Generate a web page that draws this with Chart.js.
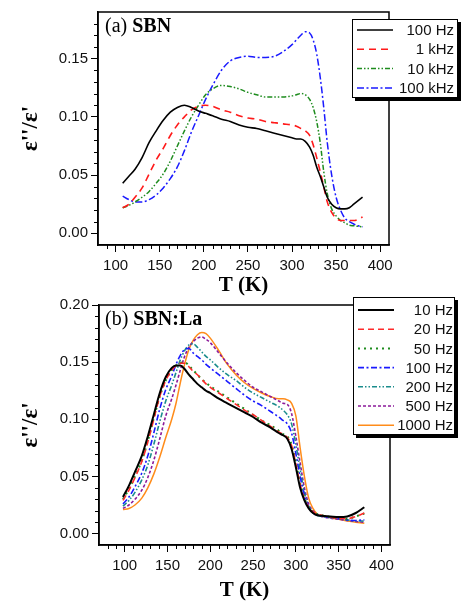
<!DOCTYPE html>
<html>
<head>
<meta charset="utf-8">
<script src="https://cdn.jsdelivr.net/npm/chart.js@4.4.1/dist/chart.umd.min.js"></script>
<style>
    body { margin: 0; background: #fff; }
    #quadro { position: relative; width: 461px; height: 603px; }
    canvas { position: absolute; left: 0; }
    #grafico-a { top: 0; }
    #grafico-b { top: 290px; }
</style>
</head>
<body>
<div id="quadro">
    <canvas id="grafico-a" width="461" height="300"></canvas>
    <canvas id="grafico-b" width="461" height="313"></canvas>
</div>
<script>
// (a) SBN - temperaturas (K) e perdas dieletricas por frequencia
const temperaturasA = [108, 115, 122, 130, 138, 146, 154, 162, 170, 178, 186, 194, 202, 210, 220, 230, 240, 250, 260, 270,
    280, 290, 300, 305, 310, 315, 320, 324, 328, 332, 336, 340, 345, 350, 355, 360, 365, 370, 375, 380];
const sbn100Hz = [0.043, 0.049, 0.055, 0.065, 0.078, 0.088, 0.097, 0.104, 0.108, 0.110, 0.108, 0.105, 0.103, 0.101, 0.098, 0.096, 0.093, 0.091, 0.090, 0.088,
    0.086, 0.084, 0.082, 0.081, 0.081, 0.079, 0.074, 0.067, 0.057, 0.049, 0.040, 0.031, 0.025, 0.022, 0.021, 0.021, 0.022, 0.025, 0.028, 0.031];
const sbn1kHz = [0.022, 0.025, 0.031, 0.039, 0.051, 0.063, 0.073, 0.084, 0.093, 0.100, 0.106, 0.109, 0.110, 0.109, 0.106, 0.104, 0.101, 0.099, 0.098, 0.096,
    0.095, 0.094, 0.093, 0.092, 0.090, 0.088, 0.084, 0.076, 0.065, 0.053, 0.040, 0.027, 0.018, 0.013, 0.011, 0.011, 0.011, 0.011, 0.012, 0.014];
const sbn10kHz = [0.022, 0.024, 0.027, 0.031, 0.036, 0.043, 0.051, 0.062, 0.075, 0.088, 0.100, 0.110, 0.119, 0.124, 0.127, 0.126, 0.124, 0.121, 0.119, 0.117,
    0.117, 0.117, 0.118, 0.119, 0.120, 0.119, 0.115, 0.108, 0.096, 0.078, 0.053, 0.034, 0.021, 0.015, 0.011, 0.009, 0.007, 0.0065, 0.006, 0.0056];
const sbn100kHz = [0.032, 0.029, 0.027, 0.027, 0.029, 0.033, 0.039, 0.047, 0.057, 0.071, 0.087, 0.101, 0.115, 0.127, 0.140, 0.148, 0.151, 0.152, 0.151, 0.151,
    0.152, 0.156, 0.162, 0.166, 0.170, 0.173, 0.172, 0.166, 0.154, 0.134, 0.108, 0.078, 0.050, 0.031, 0.020, 0.013, 0.010, 0.008, 0.0065, 0.0056];
const rotulosA = ['100 Hz', '1 kHz', '10 kHz', '100 kHz'];
const ticksTempA = [100, 150, 200, 250, 300, 350, 400];
const ticksPerdaA = [0, 0.05, 0.10, 0.15];

// (b) SBN:La
const temperaturasB = [98, 105, 112, 120, 127, 134, 141, 148, 155, 160, 165, 170, 175, 180, 185, 190, 195, 200, 210, 220,
    230, 240, 250, 260, 270, 280, 285, 290, 295, 300, 305, 310, 315, 320, 325, 330, 340, 350, 360, 370, 380];
const la10Hz = [0.032, 0.042, 0.054, 0.068, 0.085, 0.104, 0.123, 0.137, 0.145, 0.147, 0.147, 0.144, 0.139, 0.135, 0.131, 0.128, 0.125, 0.123, 0.118, 0.114,
    0.110, 0.106, 0.102, 0.097, 0.093, 0.088, 0.086, 0.083, 0.074, 0.058, 0.040, 0.029, 0.022, 0.018, 0.016, 0.0155, 0.015, 0.0145, 0.015, 0.018, 0.023];
const la20Hz = [0.029, 0.038, 0.049, 0.063, 0.080, 0.100, 0.120, 0.134, 0.143, 0.147, 0.149, 0.149, 0.146, 0.142, 0.139, 0.135, 0.131, 0.128, 0.123, 0.118,
    0.113, 0.108, 0.104, 0.099, 0.094, 0.089, 0.087, 0.084, 0.077, 0.061, 0.043, 0.030, 0.023, 0.019, 0.017, 0.016, 0.0145, 0.013, 0.013, 0.015, 0.018];
const la50Hz = [0.030, 0.039, 0.050, 0.064, 0.081, 0.101, 0.120, 0.134, 0.143, 0.147, 0.149, 0.150, 0.147, 0.143, 0.139, 0.135, 0.132, 0.129, 0.124, 0.119,
    0.114, 0.109, 0.104, 0.099, 0.095, 0.090, 0.087, 0.085, 0.078, 0.062, 0.044, 0.031, 0.023, 0.019, 0.017, 0.016, 0.0145, 0.013, 0.013, 0.015, 0.0175];
const la100Hz = [0.026, 0.032, 0.041, 0.053, 0.068, 0.088, 0.109, 0.126, 0.138, 0.148, 0.156, 0.161, 0.162, 0.158, 0.155, 0.152, 0.148, 0.145, 0.139, 0.133,
    0.127, 0.121, 0.116, 0.112, 0.107, 0.102, 0.099, 0.096, 0.088, 0.070, 0.050, 0.033, 0.023, 0.018, 0.016, 0.0155, 0.014, 0.013, 0.012, 0.0115, 0.012];
const la200Hz = [0.024, 0.029, 0.036, 0.047, 0.060, 0.078, 0.098, 0.116, 0.130, 0.141, 0.152, 0.160, 0.165, 0.166, 0.163, 0.159, 0.155, 0.152, 0.145, 0.139,
    0.134, 0.128, 0.123, 0.119, 0.115, 0.111, 0.108, 0.104, 0.096, 0.078, 0.056, 0.036, 0.024, 0.019, 0.016, 0.015, 0.014, 0.013, 0.012, 0.011, 0.011];
const la500Hz = [0.022, 0.025, 0.030, 0.038, 0.049, 0.064, 0.083, 0.103, 0.118, 0.130, 0.143, 0.155, 0.163, 0.168, 0.171, 0.172, 0.170, 0.167, 0.158, 0.149,
    0.141, 0.134, 0.128, 0.124, 0.120, 0.116, 0.114, 0.113, 0.105, 0.085, 0.062, 0.040, 0.026, 0.020, 0.017, 0.015, 0.0135, 0.0125, 0.0115, 0.0105, 0.010];
const la1000Hz = [0.021, 0.022, 0.025, 0.031, 0.040, 0.052, 0.067, 0.084, 0.100, 0.114, 0.132, 0.148, 0.161, 0.169, 0.174, 0.176, 0.175, 0.171, 0.160, 0.148,
    0.139, 0.132, 0.127, 0.123, 0.120, 0.118, 0.118, 0.117, 0.114, 0.103, 0.075, 0.050, 0.031, 0.022, 0.017, 0.0155, 0.014, 0.0125, 0.011, 0.010, 0.009];
const rotulosB = ['10 Hz', '20 Hz', '50 Hz', '100 Hz', '200 Hz', '500 Hz', '1000 Hz'];
const ticksTempB = [100, 150, 200, 250, 300, 350, 400];
const ticksPerdaB = [0, 0.05, 0.10, 0.15, 0.20];

const estilosA = [
    { borderColor: '#000000', borderWidth: 1.6, borderDash: [] },
    { borderColor: '#ff1a1a', borderWidth: 1.6, borderDash: [7, 5] },
    { borderColor: '#1e8c1e', borderWidth: 1.5, borderDash: [5, 2, 1.5, 2, 1.5, 2] },
    { borderColor: '#1a1aff', borderWidth: 1.5, borderDash: [7, 2.5, 2, 2.5] }
];

const estilosB = [
    { borderColor: '#000000', borderWidth: 2, borderDash: [] },
    { borderColor: '#ff2a2a', borderWidth: 1.6, borderDash: [6, 4] },
    { borderColor: '#1e8c1e', borderWidth: 2, borderDash: [2, 4] },
    { borderColor: '#1a1aff', borderWidth: 1.6, borderDash: [6, 2.5, 2, 2.5] },
    { borderColor: '#1a8c8c', borderWidth: 1.6, borderDash: [5, 2, 1.5, 2, 1.5, 2] },
    { borderColor: '#8c1a9a', borderWidth: 1.6, borderDash: [3, 2] },
    { borderColor: '#ff8c1a', borderWidth: 1.5, borderDash: [] }
];

const fonteTicks = { family: 'Liberation Sans', size: 15 };
const fonteTitulo = { family: 'Liberation Serif', size: 21, weight: 'bold' };

// moldura, ticks menores, rotulo do painel e legenda com sombra
const pluginMoldura = {
    id: 'moldura',
    afterDraw(chart, args, opcoes) {
        const { ctx, chartArea: area, scales: { x, y } } = chart;
        ctx.save();
        ctx.strokeStyle = '#000';
        ctx.lineWidth = 1;
        ctx.beginPath();
        for (let t = Math.ceil(x.min / 10) * 10; t < x.max; t += 10) {
            if (t % 50 === 0 || t <= x.min) continue;
            const px = Math.round(x.getPixelForValue(t)) + 0.5;
            ctx.moveTo(px, area.bottom);
            ctx.lineTo(px, area.bottom + 4);
        }
        for (let k = Math.ceil(y.min * 100 - 1e-6); k < Math.round(y.max * 100); k++) {
            if (k % 5 === 0 || k / 100 <= y.min + 1e-6) continue;
            const py = Math.round(y.getPixelForValue(k / 100)) + 0.5;
            ctx.moveTo(area.left - 4, py);
            ctx.lineTo(area.left, py);
        }
        ctx.stroke();

        ctx.lineWidth = 1.5;
        ctx.strokeRect(area.left, area.top, area.right - area.left, area.bottom - area.top);

        // rotulo "(a) SBN"
        ctx.fillStyle = '#000';
        ctx.textAlign = 'left';
        ctx.textBaseline = 'alphabetic';
        ctx.font = '20px "Liberation Serif"';
        ctx.fillText(opcoes.rotulo[0], opcoes.rotuloX, opcoes.rotuloY);
        const largura = ctx.measureText(opcoes.rotulo[0]).width;
        ctx.font = 'bold 20px "Liberation Serif"';
        ctx.fillText(opcoes.rotulo[1], opcoes.rotuloX + largura, opcoes.rotuloY);

        // legenda
        const leg = opcoes.legenda;
        ctx.fillStyle = '#000';
        ctx.fillRect(leg.x + 3, leg.y + 3, leg.w, leg.h);
        ctx.fillStyle = '#fff';
        ctx.fillRect(leg.x, leg.y, leg.w, leg.h);
        ctx.lineWidth = 1;
        ctx.strokeStyle = '#000';
        ctx.strokeRect(leg.x + 0.5, leg.y + 0.5, leg.w - 1, leg.h - 1);

        ctx.font = '15px "Liberation Sans"';
        ctx.textAlign = 'right';
        ctx.textBaseline = 'middle';
        chart.data.datasets.forEach((ds, i) => {
            const yLinha = leg.linha0 + i * leg.passo;
            ctx.save();
            ctx.strokeStyle = ds.borderColor;
            ctx.lineWidth = ds.borderWidth;
            ctx.setLineDash(ds.borderDash);
            ctx.beginPath();
            ctx.moveTo(leg.x + 5, yLinha);
            ctx.lineTo(leg.x + 41, yLinha);
            ctx.stroke();
            ctx.restore();
            ctx.fillStyle = '#111';
            ctx.fillText(ds.label, leg.textoX, yLinha + 1);
        });
        ctx.restore();
    }
};

function montarPontos(temperaturas, valores) {
    return temperaturas.map((t, i) => ({ x: t, y: valores[i] }));
}

function criarPainel(elementoId, temperaturas, series, estilos, rotulos, eixos, painel) {
    const contexto = document.getElementById(elementoId);

    return new Chart(contexto, {
        type: 'line',
        data: {
            datasets: series.map((valores, i) => ({
                label: rotulos[i],
                data: montarPontos(temperaturas, valores),
                ...estilos[i],
                pointRadius: 0,
                fill: false,
                cubicInterpolationMode: 'monotone'
            }))
        },
        options: {
            responsive: false,
            animation: false,
            devicePixelRatio: 1,
            layout: { padding: painel.padding },
            plugins: {
                legend: { display: false },
                tooltip: { enabled: false },
                moldura: painel
            },
            scales: {
                x: {
                    type: 'linear',
                    min: eixos.xMin,
                    max: eixos.xMax,
                    afterBuildTicks(escala) { escala.ticks = eixos.ticksX.map(v => ({ value: v })); },
                    afterFit(escala) { escala.height = painel.alturaX; },
                    ticks: {
                        padding: 5,
                        font: fonteTicks,
                        color: '#111',
                        maxRotation: 0,
                        autoSkip: false,
                        callback(valor) { return String(valor); }
                    },
                    grid: { drawOnChartArea: false, tickLength: 7, color: '#000' },
                    border: { color: '#000', width: 1.5 },
                    title: {
                        display: true,
                        text: 'T (K)',
                        font: fonteTitulo,
                        color: '#000',
                        padding: { top: 0, bottom: painel.tituloXPad }
                    }
                },
                y: {
                    min: eixos.yMin,
                    max: eixos.yMax,
                    afterBuildTicks(escala) { escala.ticks = eixos.ticksY.map(v => ({ value: v })); },
                    afterFit(escala) { escala.width = painel.larguraY; },
                    ticks: {
                        padding: 3,
                        font: fonteTicks,
                        color: '#111',
                        autoSkip: false,
                        callback(valor) { return valor.toFixed(2); }
                    },
                    grid: { drawOnChartArea: false, tickLength: 7, color: '#000' },
                    border: { color: '#000', width: 1.5 },
                    title: {
                        display: true,
                        text: "ε''/ε'",
                        font: { family: 'Liberation Serif', size: 23, weight: 'bold' },
                        color: '#000',
                        padding: { top: 17, bottom: 0 }
                    }
                }
            }
        },
        plugins: [pluginMoldura]
    });
}

criarPainel(
    'grafico-a',
    temperaturasA,
    [sbn100Hz, sbn1kHz, sbn10kHz, sbn100kHz],
    estilosA,
    rotulosA,
    { xMin: 80, xMax: 410, yMin: -0.01, yMax: 0.19, ticksX: ticksTempA, ticksY: ticksPerdaA },
    {
        padding: { left: 0, right: 72, top: 7, bottom: 0 },
        alturaX: 55,
        larguraY: 98,
        tituloXPad: 2,
        rotulo: ['(a) ', 'SBN'],
        rotuloX: 105,
        rotuloY: 32,
        legenda: { x: 352, y: 19, w: 106, h: 79, linha0: 30, passo: 19.3, textoX: 454 }
    }
);

criarPainel(
    'grafico-b',
    temperaturasB,
    [la10Hz, la20Hz, la50Hz, la100Hz, la200Hz, la500Hz, la1000Hz],
    estilosB,
    rotulosB,
    { xMin: 70, xMax: 410, yMin: -0.01, yMax: 0.20, ticksX: ticksTempB, ticksY: ticksPerdaB },
    {
        padding: { left: 0, right: 71, top: 15, bottom: 0 },
        alturaX: 58,
        larguraY: 99,
        tituloXPad: 0,
        rotulo: ['(b) ', 'SBN:La'],
        rotuloX: 105,
        rotuloY: 35,
        legenda: { x: 353, y: 7, w: 102, h: 138, linha0: 20, passo: 19.2, textoX: 453 }
    }
);
</script>
</body>
</html>
